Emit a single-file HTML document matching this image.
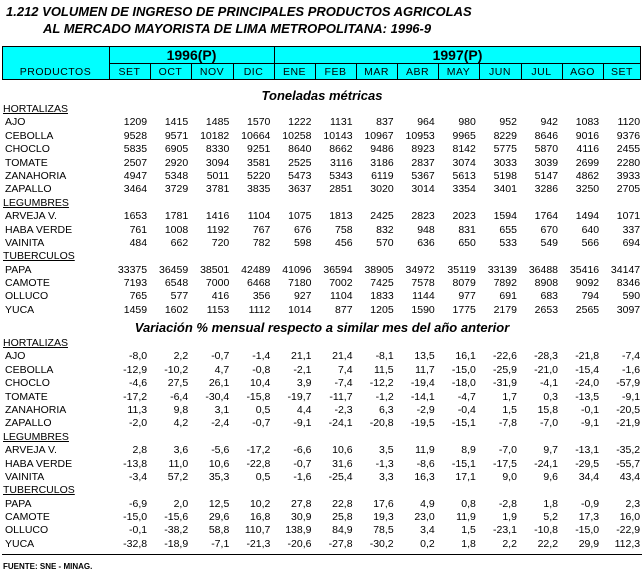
<!DOCTYPE html>
<html><head><meta charset="utf-8"><style>
body{margin:0;width:644px;height:576px;background:#fff;font-family:"Liberation Sans",Arial,sans-serif;color:#000;position:relative;overflow:hidden}
.t{position:absolute;font-weight:bold;font-style:italic;font-size:13px;white-space:nowrap}
.hdr{position:absolute;left:2px;top:46px;width:639px;height:34px;background:#00ffff;border:1px solid #000;box-sizing:border-box}
.hc{position:absolute;font-size:10.5px;text-align:center;letter-spacing:0.5px}
.vl{position:absolute;width:1px;background:#000}
.sec{position:absolute;left:0;width:644px}
.r{display:flex;height:13.4px;line-height:13.4px;font-size:10.5px;white-space:nowrap}
.r span{width:41.1px;text-align:right;padding-right:3px;box-sizing:border-box}
.r span:first-child{width:109px;text-align:left;padding-left:5px}
.r span:last-child{width:39px;padding-right:1px}
.c{font-size:10.5px;height:13.4px;line-height:13.4px;padding-left:3px;text-decoration:underline}
.st{position:absolute;font-weight:bold;font-style:italic;font-size:13px;white-space:nowrap;width:644px;text-align:center}
</style></head><body>
<div class="t" style="left:6px;top:4px">1.212 VOLUMEN DE INGRESO DE PRINCIPALES PRODUCTOS AGRICOLAS</div>
<div class="t" style="left:43px;top:21px">AL MERCADO MAYORISTA DE LIMA METROPOLITANA: 1996-9</div>
<div class="hdr"></div>
<div style="position:absolute;left:109px;top:63px;width:532px;height:1px;background:#000"></div>
<div class="vl" style="left:109px;top:46px;height:34px"></div>
<div class="vl" style="left:274px;top:46px;height:34px"></div>
<div class="vl" style="left:150px;top:63px;height:17px"></div>
<div class="vl" style="left:191px;top:63px;height:17px"></div>
<div class="vl" style="left:233px;top:63px;height:17px"></div>
<div class="vl" style="left:315px;top:63px;height:17px"></div>
<div class="vl" style="left:356px;top:63px;height:17px"></div>
<div class="vl" style="left:397px;top:63px;height:17px"></div>
<div class="vl" style="left:438px;top:63px;height:17px"></div>
<div class="vl" style="left:479px;top:63px;height:17px"></div>
<div class="vl" style="left:521px;top:63px;height:17px"></div>
<div class="vl" style="left:562px;top:63px;height:17px"></div>
<div class="vl" style="left:603px;top:63px;height:17px"></div>
<div class="hc" style="left:109px;top:47px;width:165px;font-size:14px;font-weight:bold;letter-spacing:0">1996(P)</div>
<div class="hc" style="left:274px;top:47px;width:367px;font-size:14px;font-weight:bold;letter-spacing:0">1997(P)</div>
<div class="hc" style="left:2px;top:66px;width:107px">PRODUCTOS</div>
<div class="hc" style="left:109px;top:66px;width:41px">SET</div>
<div class="hc" style="left:150px;top:66px;width:41px">OCT</div>
<div class="hc" style="left:191px;top:66px;width:42px">NOV</div>
<div class="hc" style="left:233px;top:66px;width:41px">DIC</div>
<div class="hc" style="left:274px;top:66px;width:41px">ENE</div>
<div class="hc" style="left:315px;top:66px;width:41px">FEB</div>
<div class="hc" style="left:356px;top:66px;width:41px">MAR</div>
<div class="hc" style="left:397px;top:66px;width:41px">ABR</div>
<div class="hc" style="left:438px;top:66px;width:41px">MAY</div>
<div class="hc" style="left:479px;top:66px;width:42px">JUN</div>
<div class="hc" style="left:521px;top:66px;width:41px">JUL</div>
<div class="hc" style="left:562px;top:66px;width:41px">AGO</div>
<div class="hc" style="left:603px;top:66px;width:38px">SET</div>

<div class="st" style="left:0;top:88px">Toneladas métricas</div>
<div class="sec" style="top:103px">
<div class="c">HORTALIZAS</div>
<div class="r"><span>AJO</span><span>1209</span><span>1415</span><span>1485</span><span>1570</span><span>1222</span><span>1131</span><span>837</span><span>964</span><span>980</span><span>952</span><span>942</span><span>1083</span><span>1120</span></div>
<div class="r"><span>CEBOLLA</span><span>9528</span><span>9571</span><span>10182</span><span>10664</span><span>10258</span><span>10143</span><span>10967</span><span>10953</span><span>9965</span><span>8229</span><span>8646</span><span>9016</span><span>9376</span></div>
<div class="r"><span>CHOCLO</span><span>5835</span><span>6905</span><span>8330</span><span>9251</span><span>8640</span><span>8662</span><span>9486</span><span>8923</span><span>8142</span><span>5775</span><span>5870</span><span>4116</span><span>2455</span></div>
<div class="r"><span>TOMATE</span><span>2507</span><span>2920</span><span>3094</span><span>3581</span><span>2525</span><span>3116</span><span>3186</span><span>2837</span><span>3074</span><span>3033</span><span>3039</span><span>2699</span><span>2280</span></div>
<div class="r"><span>ZANAHORIA</span><span>4947</span><span>5348</span><span>5011</span><span>5220</span><span>5473</span><span>5343</span><span>6119</span><span>5367</span><span>5613</span><span>5198</span><span>5147</span><span>4862</span><span>3933</span></div>
<div class="r"><span>ZAPALLO</span><span>3464</span><span>3729</span><span>3781</span><span>3835</span><span>3637</span><span>2851</span><span>3020</span><span>3014</span><span>3354</span><span>3401</span><span>3286</span><span>3250</span><span>2705</span></div>
<div class="c">LEGUMBRES</div>
<div class="r"><span>ARVEJA V.</span><span>1653</span><span>1781</span><span>1416</span><span>1104</span><span>1075</span><span>1813</span><span>2425</span><span>2823</span><span>2023</span><span>1594</span><span>1764</span><span>1494</span><span>1071</span></div>
<div class="r"><span>HABA VERDE</span><span>761</span><span>1008</span><span>1192</span><span>767</span><span>676</span><span>758</span><span>832</span><span>948</span><span>831</span><span>655</span><span>670</span><span>640</span><span>337</span></div>
<div class="r"><span>VAINITA</span><span>484</span><span>662</span><span>720</span><span>782</span><span>598</span><span>456</span><span>570</span><span>636</span><span>650</span><span>533</span><span>549</span><span>566</span><span>694</span></div>
<div class="c">TUBERCULOS</div>
<div class="r"><span>PAPA</span><span>33375</span><span>36459</span><span>38501</span><span>42489</span><span>41096</span><span>36594</span><span>38905</span><span>34972</span><span>35119</span><span>33139</span><span>36488</span><span>35416</span><span>34147</span></div>
<div class="r"><span>CAMOTE</span><span>7193</span><span>6548</span><span>7000</span><span>6468</span><span>7180</span><span>7002</span><span>7425</span><span>7578</span><span>8079</span><span>7892</span><span>8908</span><span>9092</span><span>8346</span></div>
<div class="r"><span>OLLUCO</span><span>765</span><span>577</span><span>416</span><span>356</span><span>927</span><span>1104</span><span>1833</span><span>1144</span><span>977</span><span>691</span><span>683</span><span>794</span><span>590</span></div>
<div class="r"><span>YUCA</span><span>1459</span><span>1602</span><span>1153</span><span>1112</span><span>1014</span><span>877</span><span>1205</span><span>1590</span><span>1775</span><span>2179</span><span>2653</span><span>2565</span><span>3097</span></div>
</div>

<div class="st" style="left:0;top:320px">Variación % mensual respecto a similar mes del año anterior</div>
<div class="sec" style="top:337px">
<div class="c">HORTALIZAS</div>
<div class="r"><span>AJO</span><span>-8,0</span><span>2,2</span><span>-0,7</span><span>-1,4</span><span>21,1</span><span>21,4</span><span>-8,1</span><span>13,5</span><span>16,1</span><span>-22,6</span><span>-28,3</span><span>-21,8</span><span>-7,4</span></div>
<div class="r"><span>CEBOLLA</span><span>-12,9</span><span>-10,2</span><span>4,7</span><span>-0,8</span><span>-2,1</span><span>7,4</span><span>11,5</span><span>11,7</span><span>-15,0</span><span>-25,9</span><span>-21,0</span><span>-15,4</span><span>-1,6</span></div>
<div class="r"><span>CHOCLO</span><span>-4,6</span><span>27,5</span><span>26,1</span><span>10,4</span><span>3,9</span><span>-7,4</span><span>-12,2</span><span>-19,4</span><span>-18,0</span><span>-31,9</span><span>-4,1</span><span>-24,0</span><span>-57,9</span></div>
<div class="r"><span>TOMATE</span><span>-17,2</span><span>-6,4</span><span>-30,4</span><span>-15,8</span><span>-19,7</span><span>-11,7</span><span>-1,2</span><span>-14,1</span><span>-4,7</span><span>1,7</span><span>0,3</span><span>-13,5</span><span>-9,1</span></div>
<div class="r"><span>ZANAHORIA</span><span>11,3</span><span>9,8</span><span>3,1</span><span>0,5</span><span>4,4</span><span>-2,3</span><span>6,3</span><span>-2,9</span><span>-0,4</span><span>1,5</span><span>15,8</span><span>-0,1</span><span>-20,5</span></div>
<div class="r"><span>ZAPALLO</span><span>-2,0</span><span>4,2</span><span>-2,4</span><span>-0,7</span><span>-9,1</span><span>-24,1</span><span>-20,8</span><span>-19,5</span><span>-15,1</span><span>-7,8</span><span>-7,0</span><span>-9,1</span><span>-21,9</span></div>
<div class="c">LEGUMBRES</div>
<div class="r"><span>ARVEJA V.</span><span>2,8</span><span>3,6</span><span>-5,6</span><span>-17,2</span><span>-6,6</span><span>10,6</span><span>3,5</span><span>11,9</span><span>8,9</span><span>-7,0</span><span>9,7</span><span>-13,1</span><span>-35,2</span></div>
<div class="r"><span>HABA VERDE</span><span>-13,8</span><span>11,0</span><span>10,6</span><span>-22,8</span><span>-0,7</span><span>31,6</span><span>-1,3</span><span>-8,6</span><span>-15,1</span><span>-17,5</span><span>-24,1</span><span>-29,5</span><span>-55,7</span></div>
<div class="r"><span>VAINITA</span><span>-3,4</span><span>57,2</span><span>35,3</span><span>0,5</span><span>-1,6</span><span>-25,4</span><span>3,3</span><span>16,3</span><span>17,1</span><span>9,0</span><span>9,6</span><span>34,4</span><span>43,4</span></div>
<div class="c">TUBERCULOS</div>
<div class="r"><span>PAPA</span><span>-6,9</span><span>2,0</span><span>12,5</span><span>10,2</span><span>27,8</span><span>22,8</span><span>17,6</span><span>4,9</span><span>0,8</span><span>-2,8</span><span>1,8</span><span>-0,9</span><span>2,3</span></div>
<div class="r"><span>CAMOTE</span><span>-15,0</span><span>-15,6</span><span>29,6</span><span>16,8</span><span>30,9</span><span>25,8</span><span>19,3</span><span>23,0</span><span>11,9</span><span>1,9</span><span>5,2</span><span>17,3</span><span>16,0</span></div>
<div class="r"><span>OLLUCO</span><span>-0,1</span><span>-38,2</span><span>58,8</span><span>110,7</span><span>138,9</span><span>84,9</span><span>78,5</span><span>3,4</span><span>1,5</span><span>-23,1</span><span>-10,8</span><span>-15,0</span><span>-22,9</span></div>
<div class="r"><span>YUCA</span><span>-32,8</span><span>-18,9</span><span>-7,1</span><span>-21,3</span><span>-20,6</span><span>-27,8</span><span>-30,2</span><span>0,2</span><span>1,8</span><span>2,2</span><span>22,2</span><span>29,9</span><span>112,3</span></div>
</div>
<div style="position:absolute;left:2px;top:554px;width:640px;height:1px;background:#000"></div>
<div style="position:absolute;left:3px;top:562px;font-size:8px;font-weight:bold">FUENTE: SNE - MINAG.</div>
</body></html>
